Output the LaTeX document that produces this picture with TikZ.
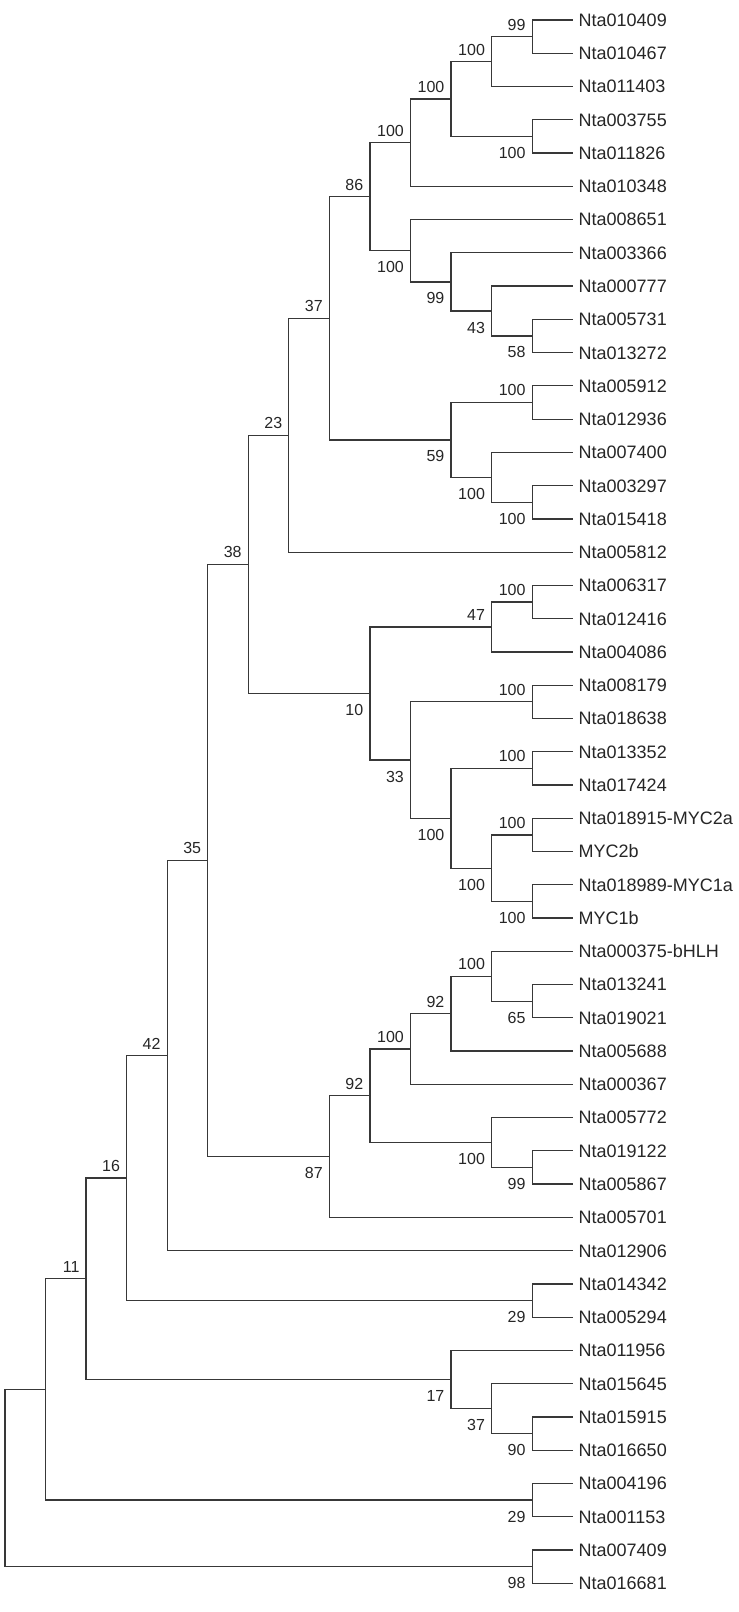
\documentclass[tikz,border=0pt]{standalone}
\usepackage{fontspec}
\setmainfont{Liberation Sans}
\begin{document}
\begin{tikzpicture}[x=1pt,y=-1pt,
  br/.style={draw=black!78,line width=1.25pt},
  leaflab/.style={anchor=base west,inner sep=0pt,xshift=5.8pt,yshift=-6.4pt,text=black!85,font=\fontsize{18}{20}\selectfont},
  bsup/.style={anchor=base east,inner sep=0pt,xshift=-6.5pt,yshift=6.5pt,text=black!85,font=\fontsize{16}{18}\selectfont},
  bslow/.style={anchor=base east,inner sep=0pt,xshift=-6.5pt,yshift=-22pt,text=black!85,font=\fontsize{16}{18}\selectfont}]
\useasboundingbox[fill=white] (0,0) rectangle (739,1612);
% leaves
\foreach \i/\t in {1/Nta010409,2/Nta010467,3/Nta011403,4/Nta003755,5/Nta011826,6/Nta010348,
  7/Nta008651,8/Nta003366,9/Nta000777,10/Nta005731,11/Nta013272,12/Nta005912,13/Nta012936,
  14/Nta007400,15/Nta003297,16/Nta015418,17/Nta005812,18/Nta006317,19/Nta012416,20/Nta004086,
  21/Nta008179,22/Nta018638,23/Nta013352,24/Nta017424,25/Nta018915-MYC2a,26/MYC2b,
  27/Nta018989-MYC1a,28/MYC1b,29/Nta000375-bHLH,30/Nta013241,31/Nta019021,32/Nta005688,
  33/Nta000367,34/Nta005772,35/Nta019122,36/Nta005867,37/Nta005701,38/Nta012906,
  39/Nta014342,40/Nta005294,41/Nta011956,42/Nta015645,43/Nta015915,44/Nta016650,
  45/Nta004196,46/Nta001153,47/Nta007409,48/Nta016681}{
  \coordinate (l\i) at (572.7,{20+(\i-1)*33.26});
  \node[leaflab] (t\i) at (l\i) {\t};
}
% internal nodes
\coordinate (n1) at (532.15,36.63);
\coordinate (n2) at (491.6,61.575);
\coordinate (n3) at (532.15,136.41);
\coordinate (n4) at (451.05,98.99);
\coordinate (n5) at (410.5,142.65);
\coordinate (n6) at (532.15,335.97);
\coordinate (n7) at (491.6,311.03);
\coordinate (n8) at (451.05,281.92);
\coordinate (n9) at (410.5,250.74);
\coordinate (n10) at (369.95,196.70);
\coordinate (n11) at (532.15,402.49);
\coordinate (n12) at (532.15,502.27);
\coordinate (n13) at (491.6,477.33);
\coordinate (n14) at (451.05,439.91);
\coordinate (n15) at (329.4,318.30);
\coordinate (n16) at (288.85,435.23);
\coordinate (n17) at (532.15,602.05);
\coordinate (n18) at (491.6,627.00);
\coordinate (n19) at (532.15,701.83);
\coordinate (n20) at (532.15,768.35);
\coordinate (n21) at (532.15,834.87);
\coordinate (n22) at (532.15,901.39);
\coordinate (n23) at (491.6,868.13);
\coordinate (n24) at (451.05,818.24);
\coordinate (n25) at (410.5,760.04);
\coordinate (n26) at (369.95,693.52);
\coordinate (n27) at (248.3,564.37);
\coordinate (n28) at (532.15,1001.17);
\coordinate (n29) at (491.6,976.23);
\coordinate (n30) at (451.05,1013.64);
\coordinate (n31) at (410.5,1048.98);
\coordinate (n32) at (532.15,1167.47);
\coordinate (n33) at (491.6,1142.53);
\coordinate (n34) at (369.95,1095.75);
\coordinate (n35) at (329.4,1156.55);
\coordinate (n36) at (207.75,860.46);
\coordinate (n37) at (167.2,1055.54);
\coordinate (n38) at (532.15,1300.51);
\coordinate (n39) at (126.65,1178.03);
\coordinate (n40) at (532.15,1433.55);
\coordinate (n41) at (491.6,1408.60);
\coordinate (n42) at (451.05,1379.50);
\coordinate (n43) at (86.1,1278.77);
\coordinate (n44) at (532.15,1500.07);
\coordinate (n45) at (45.55,1389.42);
\coordinate (n46) at (532.15,1566.59);
\coordinate (r) at (5.0,1478.0);
% branches
\foreach \p/\a/\b in {n1/l1/l2,n2/n1/l3,n3/l4/l5,n4/n2/n3,n5/n4/l6,n6/l10/l11,n7/l9/n6,
  n8/l8/n7,n9/l7/n8,n10/n5/n9,n11/l12/l13,n12/l15/l16,n13/l14/n12,n14/n11/n13,n15/n10/n14,
  n16/n15/l17,n17/l18/l19,n18/n17/l20,n19/l21/l22,n20/l23/l24,n21/l25/l26,n22/l27/l28,
  n23/n21/n22,n24/n20/n23,n25/n19/n24,n26/n18/n25,n27/n16/n26,n28/l30/l31,n29/l29/n28,
  n30/n29/l32,n31/n30/l33,n32/l35/l36,n33/l34/n32,n34/n31/n33,n35/n34/l37,n36/n27/n35,
  n37/n36/l38,n38/l39/l40,n39/n37/n38,n40/l43/l44,n41/l42/n40,n42/l41/n41,n43/n39/n42,
  n44/l45/l46,n45/n43/n44,n46/l47/l48,r/n45/n46}{
  \draw[br] (\p) |- (\a);
  \draw[br] (\p) |- (\b);
}
% bootstrap values
\foreach \n/\v in {n1/99,n2/100,n4/100,n5/100,n10/86,n11/100,n15/37,n16/23,n17/100,n18/47,
  n19/100,n20/100,n21/100,n27/38,n29/100,n30/92,n31/100,n34/92,n36/35,n37/42,n39/16,n43/11}{
  \node[bsup] (b\n) at (\n) {\v};
}
\foreach \n/\v in {n3/100,n6/58,n7/43,n8/99,n9/100,n12/100,n13/100,n14/59,n22/100,n23/100,
  n24/100,n25/33,n26/10,n28/65,n32/99,n33/100,n35/87,n38/29,n40/90,n41/37,n42/17,n44/29,n46/98}{
  \node[bslow] (b\n) at (\n) {\v};
}
\end{tikzpicture}
\end{document}
